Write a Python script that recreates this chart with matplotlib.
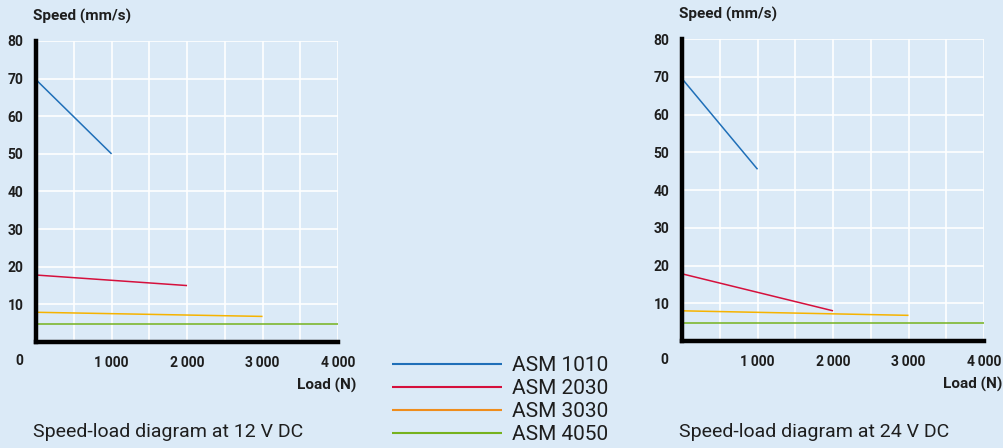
import matplotlib.pyplot as plt
from matplotlib.ticker import MultipleLocator

# Data (load in N, speed in mm/s)
models = ["ASM 1010", "ASM 2030", "ASM 3030", "ASM 4050"]
colors = ["#1f6fb8", "#d5103c", "#f6b300", "#76b21e"]
legend_colors = ["#1f6fb8", "#d5103c", "#ef8d1c", "#76b21e"]

load_12v = [[0, 1000], [0, 2000], [0, 3000], [0, 4000]]
speed_12v = [[69.7, 50.0], [17.8, 15.0], [7.9, 6.8], [4.8, 4.8]]

load_24v = [[0, 1000], [0, 2000], [0, 3000], [0, 4000]]
speed_24v = [[69.5, 45.5], [17.8, 8.0], [8.0, 6.8], [4.8, 4.8]]

x_ticks = [1000, 2000, 3000, 4000]
x_labels = ["1\u2009000", "2\u2009000", "3\u2009000", "4\u2009000"]
y_ticks = [10, 20, 30, 40, 50, 60, 70, 80]

BG = "#dbeaf7"
TEXT = "#1e1e1e"

plt.rcParams['font.family'] = ['Roboto', 'DejaVu Sans']

fig = plt.figure(figsize=(10.04, 4.48), dpi=100, facecolor=BG)


def draw_panel(rect, loads, speeds, caption):
    ax = fig.add_axes(rect)
    ax.set_facecolor(BG)
    lines = []
    for xs, ys, c, name in zip(loads, speeds, colors, models):
        ln, = ax.plot(xs, ys, color=c, lw=1.1, label=name, solid_capstyle='butt')
        lines.append(ln)
    ax.set_xlim(0, 4000)
    ax.set_ylim(0, 80)
    ax.set_xticks(x_ticks)
    ax.set_xticklabels(x_labels)
    ax.set_yticks(y_ticks)
    ax.xaxis.set_minor_locator(MultipleLocator(500))
    ax.grid(True, which='both', color='white', lw=1.2)
    ax.set_axisbelow(True)
    ax.tick_params(which='both', length=0)
    ax.tick_params(axis='x', pad=10, labelsize=10, labelcolor=TEXT)
    ax.tick_params(axis='y', pad=9, labelsize=10, labelcolor=TEXT)
    for lab in ax.get_xticklabels() + ax.get_yticklabels():
        lab.set_fontweight('bold')
    for s in ['top', 'right']:
        ax.spines[s].set_visible(False)
    for s in ['left', 'bottom']:
        ax.spines[s].set_linewidth(3.2)
        ax.spines[s].set_color('black')
    # zero label sits on the x tick row
    ax.text(-0.044, -0.062, "0", transform=ax.transAxes, ha='right', va='center',
            fontsize=10, fontweight='bold', color=TEXT)
    ax.text(-0.01, 1.08, "Speed (mm/s)", transform=ax.transAxes, ha='left',
            va='center', fontsize=11, fontweight='bold', color=TEXT)
    ax.text(1.06, -0.145, "Load (N)", transform=ax.transAxes, ha='right',
            va='center', fontsize=11, fontweight='bold', color=TEXT)
    ax.text(-0.01, -0.3, caption, transform=ax.transAxes, ha='left',
            va='center', fontsize=14, color=TEXT)
    return lines


handles = draw_panel([0.0359, 0.2366, 0.3008, 0.6719], load_12v, speed_12v,
                     "Speed-load diagram at 12 V DC")
draw_panel([0.6793, 0.2388, 0.3008, 0.6741], load_24v, speed_24v,
           "Speed-load diagram at 24 V DC")

leg = fig.legend(handles=handles, loc='upper left', bbox_to_anchor=(0.39, 0.205),
                 frameon=False, fontsize=15, handlelength=5.3, handletextpad=0.5,
                 labelspacing=0.19, borderaxespad=0, borderpad=0)
for h, c in zip(leg.legend_handles, legend_colors):
    h.set_color(c)
    h.set_linewidth(1.5)
for t in leg.get_texts():
    t.set_color(TEXT)

fig.savefig("out.png", dpi=100, facecolor=BG)
